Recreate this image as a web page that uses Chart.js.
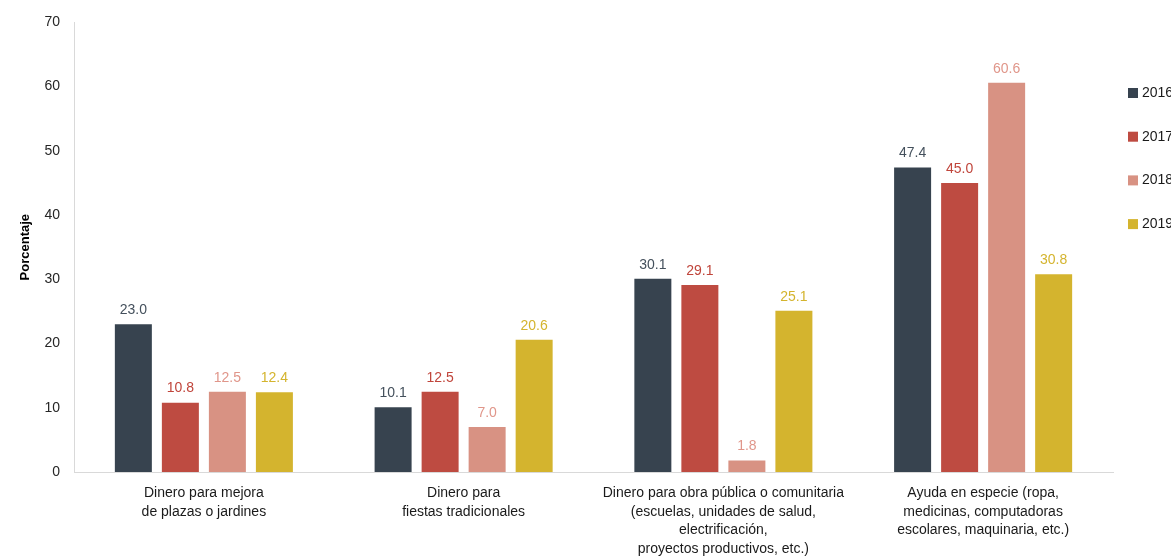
<!DOCTYPE html>
<html>
<head>
<meta charset="utf-8">
<script src="https://cdn.jsdelivr.net/npm/chart.js@4/dist/chart.umd.min.js"></script>
<style>
  html, body { margin: 0; padding: 0; background: #fff; overflow: hidden; }
  #wrap { width: 1171px; height: 557px; }
</style>
</head>
<body>
<div id="wrap"><canvas id="chart" width="1171" height="557"></canvas></div>
<script>
const categories = [
    ["Dinero para mejora", "de plazas o jardines"],
    ["Dinero para", "fiestas tradicionales"],
    ["Dinero para obra pública o comunitaria", "(escuelas, unidades de salud,", "electrificación,", "proyectos productivos, etc.)"],
    ["Ayuda en especie (ropa,", "medicinas, computadoras", "escolares, maquinaria, etc.)"],
];
const years = ["2016", "2017", "2018", "2019"];
const values2016 = [23.0, 10.1, 30.1, 47.4];
const values2017 = [10.8, 12.5, 29.1, 45.0];
const values2018 = [12.5, 7.0, 1.8, 60.6];
const values2019 = [12.4, 20.6, 25.1, 30.8];
const colors = ['#37434f', '#be4b41', '#d89283', '#d4b42e'];
const labelColors = ['#44505c', '#c0453b', '#e0968a', '#d4b42e'];

const FONT = "'Liberation Sans', Arial, sans-serif";

// value labels above each bar
const barLabels = {
    id: 'barLabels',
    afterDatasetsDraw(chart) {
        const ctx = chart.ctx;
        ctx.save();
        ctx.font = '14px ' + FONT;
        ctx.textAlign = 'center';
        ctx.textBaseline = 'bottom';
        chart.data.datasets.forEach((ds, i) => {
            const meta = chart.getDatasetMeta(i);
            ctx.fillStyle = labelColors[i];
            meta.data.forEach((bar, j) => {
                ctx.fillText(ds.data[j].toFixed(1), bar.x, bar.y - 7);
            });
        });
        ctx.restore();
    }
};

// legend on the right, partly cut off like the original
const sideLegend = {
    id: 'sideLegend',
    afterDraw(chart) {
        const ctx = chart.ctx;
        ctx.save();
        ctx.font = '14px ' + FONT;
        ctx.textBaseline = 'middle';
        ctx.textAlign = 'left';
        chart.data.datasets.forEach((ds, i) => {
            const y = 93 + i * 43.7;
            ctx.fillStyle = ds.backgroundColor;
            ctx.fillRect(1128, y - 5, 10, 10);
            ctx.fillStyle = '#1a1a1a';
            ctx.fillText(ds.label, 1142, y);
        });
        ctx.restore();
    }
};

const series = [values2016, values2017, values2018, values2019];

new Chart(document.getElementById('chart'), {
    type: 'bar',
    data: {
        labels: categories,
        datasets: years.map((y, i) => ({
            label: y,
            data: series[i],
            backgroundColor: colors[i],
            borderWidth: 0,
            barPercentage: 0.787,
            categoryPercentage: 0.724,
        })),
    },
    options: {
        responsive: false,
        animation: false,
        layout: { padding: { top: 22, right: 58, left: 0, bottom: 0 } },
        plugins: {
            legend: { display: false },
            tooltip: { enabled: false },
        },
        scales: {
            x: {
                grid: { display: false, drawTicks: false },
                border: { color: '#d9d9d9', width: 1 },
                ticks: {
                    color: '#1a1a1a',
                    font: { family: FONT, size: 14, lineHeight: 1.33 },
                    padding: 12,
                    maxRotation: 0,
                    autoSkip: false,
                },
                afterFit(scale) { scale.height = 85; },
            },
            y: {
                min: 0,
                max: 70,
                grid: { display: false, drawTicks: false },
                border: { color: '#d9d9d9', width: 1 },
                ticks: {
                    stepSize: 10,
                    color: '#262626',
                    font: { family: FONT, size: 14 },
                    padding: 14,
                },
                title: {
                    display: true,
                    text: 'Porcentaje',
                    color: '#000',
                    font: { family: FONT, size: 13, weight: 'bold' },
                    padding: { top: 18, bottom: 0 },
                },
                afterFit(scale) { scale.width = 74; },
            },
        },
    },
    plugins: [barLabels, sideLegend],
});
</script>
</body>
</html>
